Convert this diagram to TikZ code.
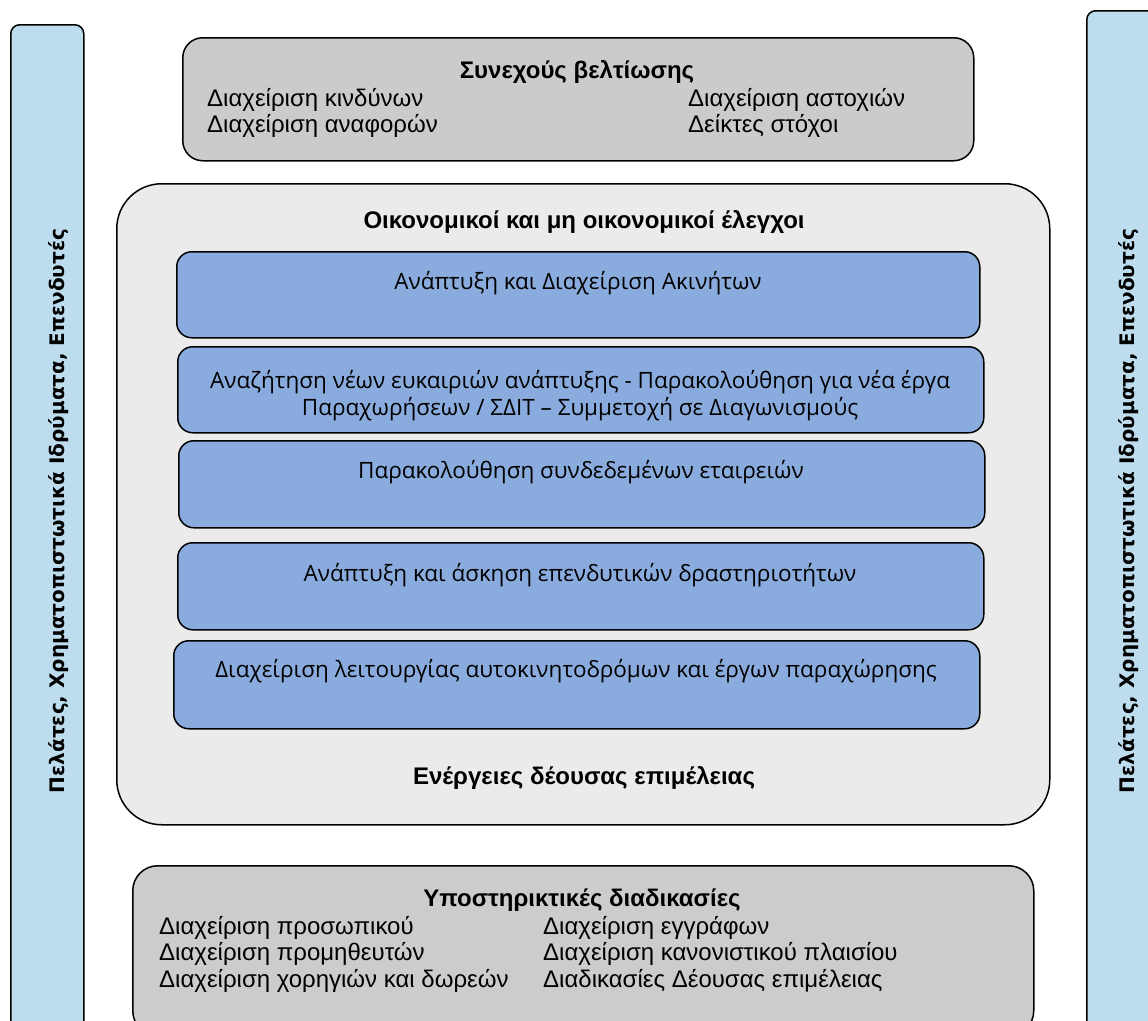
\documentclass[tikz,border=0pt]{standalone}
\usepackage{fontspec}
\setmainfont{Liberation Sans}
\newfontfamily\bluefont{Open Sans}
\newfontfamily\sidefont{DejaVu Sans}
\definecolor{barblue}{RGB}{189,221,238}
\definecolor{topgray}{RGB}{203,203,203}
\definecolor{botgray}{RGB}{205,203,204}
\definecolor{lightgray}{RGB}{235,235,235}
\definecolor{boxblue}{RGB}{138,171,221}
\begin{document}
\begin{tikzpicture}[x=1pt,y=-1pt,
  panel/.style={draw=black, line width=1.5pt, rounded corners=#1, inner sep=0pt, anchor=north west},
  bluebox/.style={panel=15pt, fill=boxblue},
  gtext/.style={inner sep=0pt, font=\fontsize{24}{27}\selectfont, anchor=base west},
  gtitle/.style={inner sep=0pt, font=\fontsize{24}{27}\selectfont\bfseries, anchor=base},
  btext/.style={inner sep=0pt, font=\bluefont\fontsize{22.5}{26}\selectfont, anchor=base},
  stext/.style={inner sep=0pt, font=\sidefont\bfseries\fontsize{20}{24}\selectfont, rotate=90, anchor=base}]
\useasboundingbox (0,0) rectangle (1148,1020);
\clip (0,0) rectangle (1148,1020);
% side bars
\node[panel=9pt, fill=barblue, minimum width=73pt, minimum height=1010pt] (leftbar) at (10,24) {};
\node[panel=9pt, fill=barblue, minimum width=74pt, minimum height=1030pt] (rightbar) at (1086,10) {};
\node[stext] (lefttxt) at (64,511) {Πελάτες, Χρηματοπιστωτικά Ιδρύματα, Επενδυτές};
\node[stext] (righttxt) at (1134,511) {Πελάτες, Χρηματοπιστωτικά Ιδρύματα, Επενδυτές};
% top box
\node[panel=20pt, fill=topgray, minimum width=791pt, minimum height=123pt] (top) at (182,37) {};
\node[gtitle] (toptitle) at (577,78) {Συνεχούς βελτίωσης};
\node[gtext] (t1) at (207,106) {Διαχείριση κινδύνων};
\node[gtext] (t2) at (207,132) {Διαχείριση αναφορών};
\node[gtext] (t3) at (688,106) {Διαχείριση αστοχιών};
\node[gtext] (t4) at (688,132) {Δείκτες στόχοι};
% big box
\node[panel=45pt, fill=lightgray, minimum width=933pt, minimum height=641pt] (big) at (116,183) {};
\node[gtitle] (bigtitle) at (584,228) {Οικονομικοί και μη οικονομικοί έλεγχοι};
\node[gtitle] (bigfoot) at (584,784) {Ενέργειες δέουσας επιμέλειας};
% blue boxes
\node[bluebox, minimum width=803pt, minimum height=86pt] (b1) at (176,251) {};
\node[bluebox, minimum width=806pt, minimum height=86pt] (b2) at (177,346) {};
\node[bluebox, minimum width=806pt, minimum height=87pt] (b3) at (178,440) {};
\node[bluebox, minimum width=806pt, minimum height=87pt] (b4) at (177,542) {};
\node[bluebox, minimum width=806pt, minimum height=88pt] (b5) at (173,640) {};
\node[btext] (b1t) at (578,289) {Ανάπτυξη και Διαχείριση Ακινήτων};
\node[btext] (b2t) at (580,388) {Αναζήτηση νέων ευκαιριών ανάπτυξης - Παρακολούθηση για νέα έργα};
\node[btext] (b2u) at (580,415) {Παραχωρήσεων / ΣΔΙΤ – Συμμετοχή σε Διαγωνισμούς};
\node[btext] (b3t) at (581,478) {Παρακολούθηση συνδεδεμένων εταιρειών};
\node[btext] (b4t) at (580,581) {Ανάπτυξη και άσκηση επενδυτικών δραστηριοτήτων};
\node[btext] (b5t) at (576,677) {Διαχείριση λειτουργίας αυτοκινητοδρόμων και έργων παραχώρησης};
% bottom box
\node[panel=25pt, fill=botgray, minimum width=901pt, minimum height=170pt] (bot) at (132,865) {};
\node[gtitle] (bottitle) at (582,906) {Υποστηρικτικές διαδικασίες};
\node[gtext] (s1) at (159,934) {Διαχείριση προσωπικού};
\node[gtext] (s2) at (159,960) {Διαχείριση προμηθευτών};
\node[gtext] (s3) at (159,987) {Διαχείριση χορηγιών και δωρεών};
\node[gtext] (s4) at (543,934) {Διαχείριση εγγράφων};
\node[gtext] (s5) at (543,960) {Διαχείριση κανονιστικού πλαισίου};
\node[gtext] (s6) at (543,987) {Διαδικασίες Δέουσας επιμέλειας};
\end{tikzpicture}
\end{document}
